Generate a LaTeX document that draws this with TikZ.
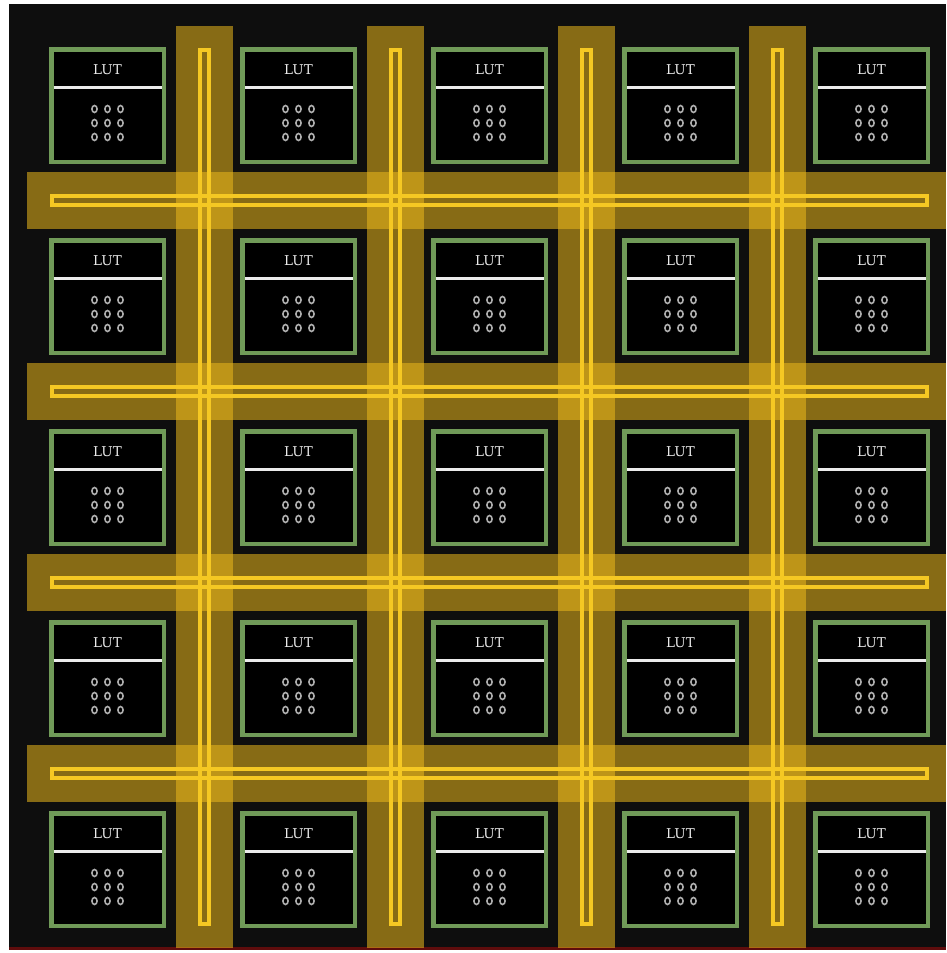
\documentclass[tikz,border=0pt]{standalone}
\usepackage{fontspec}
\usetikzlibrary{calc}
\newfontfamily\lutfont{DejaVu Serif}
\definecolor{bg}{RGB}{14,14,14}
\definecolor{gold}{RGB}{236,184,28}
\definecolor{wire}{RGB}{245,200,35}
\definecolor{lutgreen}{RGB}{112,154,88}
\definecolor{redline}{RGB}{95,12,12}
\definecolor{luttextc}{RGB}{235,235,235}
\definecolor{dotc}{RGB}{175,175,175}
\begin{document}
\begin{tikzpicture}[x=1pt,y=-1pt,
  lutbox/.style={draw=lutgreen, line width=4.5pt, fill=black, minimum width=112.5pt, minimum height=112.5pt, inner sep=0pt},
  bar/.style={fill=gold, fill opacity=0.55},
  wirerect/.style={draw=wire, line width=3.6pt},
  sepline/.style={draw=luttextc, line width=3.5pt},
  luttext/.style={text=luttextc, font=\lutfont\fontsize{13.5}{13.5}\selectfont, inner sep=0pt},
  dotmark/.style={draw=dotc, line width=1.6pt}]
\useasboundingbox (0,0) rectangle (946,953);
\fill[white] (0,0) rectangle (946,953);
\fill[bg] (9,4) rectangle (946,950);
\fill[redline] (9,947) rectangle (946,950);
% routing channels
\foreach \i in {0,...,3} {
  \fill[bar] ({204+191*\i-28.5},26) rectangle ({204+191*\i+28.5},948);
}
\foreach \i in {0,...,3} {
  \fill[bar] (27,{200.5+191*\i-28.5}) rectangle (946,{200.5+191*\i+28.5});
}
% wires
\foreach \i in {0,...,3} {
  \draw[wirerect] ({204.5+191*\i-4.7},49.8) rectangle ({204.5+191*\i+4.7},924.2);
  \draw[wirerect] (51.8,{200.5+191*\i-4.7}) rectangle (927.2,{200.5+191*\i+4.7});
}
% LUT blocks
\foreach \r in {0,...,4} {
  \foreach \c in {0,...,4} {
    \node[lutbox] (lut-\r-\c) at ({107.5+191*\c},{105.5+191*\r}) {};
    \draw[sepline] ($(lut-\r-\c.center)+(-54,-18)$) -- ($(lut-\r-\c.center)+(54,-18)$);
    \node[luttext] (lbl-\r-\c) at ($(lut-\r-\c.center)+(0,-36)$) {LUT};
    \foreach \dx in {-13,0,13} {
      \foreach \dy in {3.5,17.5,31.5} {
        \draw[dotmark] ($(lut-\r-\c.center)+(\dx,\dy)$) ellipse [x radius=2.6pt, y radius=3.5pt];
      }
    }
  }
}
\end{tikzpicture}
\end{document}
